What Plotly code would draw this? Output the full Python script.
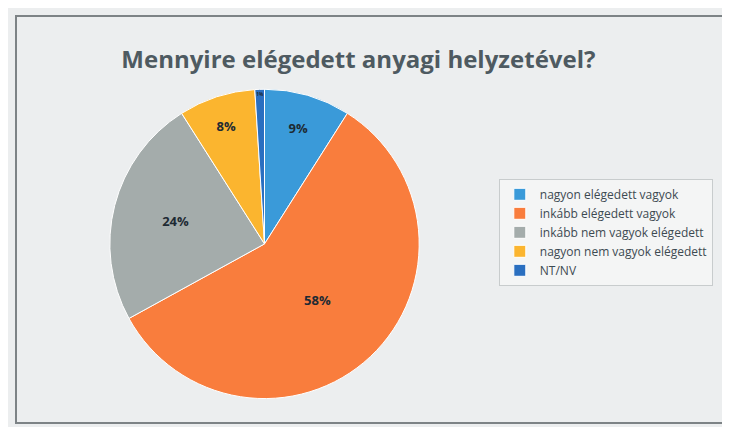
import plotly.graph_objects as go

labels = ["nagyon elégedett vagyok", "inkább elégedett vagyok",
          "inkább nem vagyok elégedett", "nagyon nem vagyok elégedett", "NT/NV"]
values = [9, 58, 24, 8, 1]
colors = ["#3a9ad9", "#f97d3d", "#a4acab", "#fbb52f", "#2a6fc0"]

fig = go.Figure(go.Pie(
    labels=labels, values=values, sort=False, direction="clockwise", rotation=0,
    marker=dict(colors=colors, line=dict(color="#ffffff", width=1)),
    texttemplate="<b>%{value}%</b>", textposition="inside",
    insidetextorientation="horizontal",
    insidetextfont=dict(color="#1e2a33", size=13, family="Open Sans"),
    domain=dict(x=[0.1, 0.6], y=[0.06, 0.82]),
))

fig.update_layout(
    width=730, height=427,
    margin=dict(l=8, r=12, t=8, b=12),
    paper_bgcolor="#eceeef",
    title=dict(text="<b>Mennyire elégedett anyagi helyzetével?</b>", x=0.48, y=0.9,
               font=dict(size=24, color="#4e5a61", family="Open Sans")),
    legend=dict(x=0.68, y=0.6, yanchor="top", bgcolor="#f4f5f5",
                bordercolor="#c8cccd", borderwidth=1,
                font=dict(size=12, color="#3d4a52", family="Open Sans")),
    shapes=[dict(type="rect", xref="paper", yref="paper", x0=0, y0=0, x1=1, y1=1,
                 line=dict(color="#7d8386", width=2))],
)

fig.write_html("out.html")
